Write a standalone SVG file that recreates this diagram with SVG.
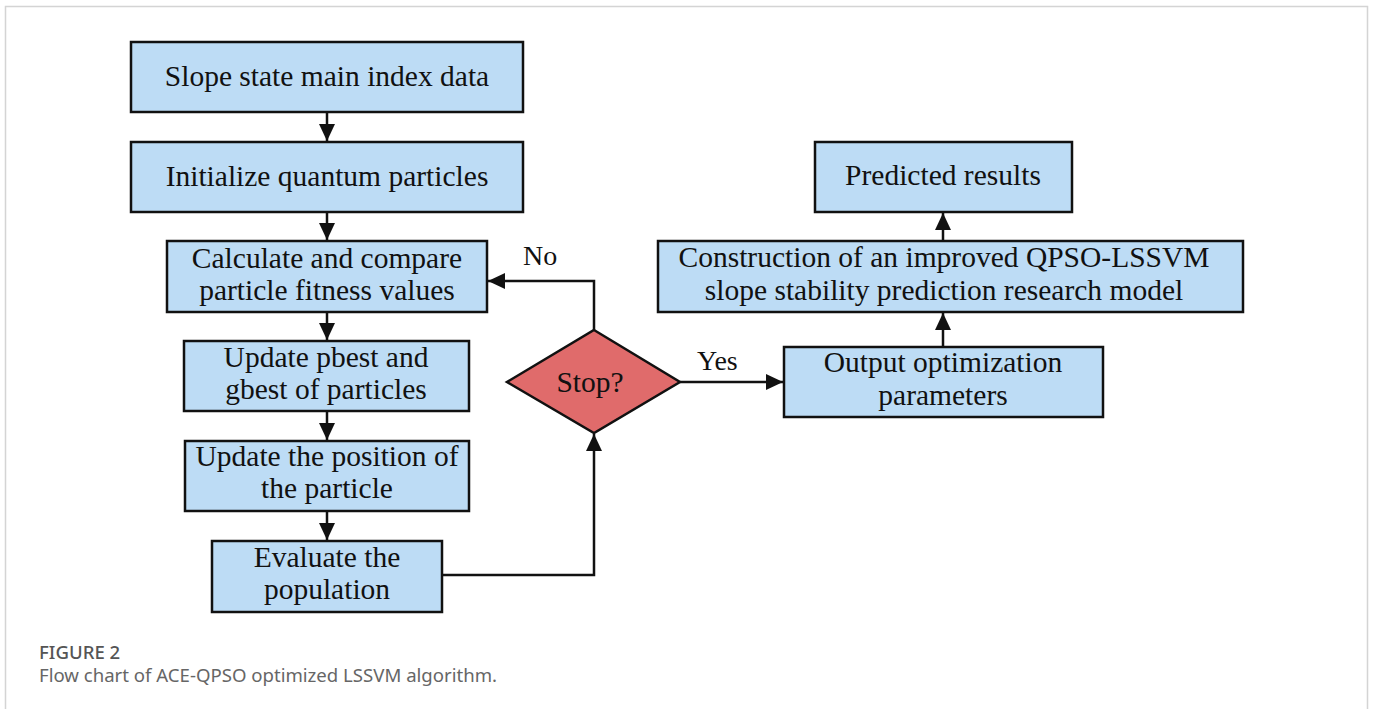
<svg xmlns="http://www.w3.org/2000/svg" width="1373" height="709" viewBox="0 0 1373 709">
<style>
.box{fill:#bddcf5;stroke:#111;stroke-width:2.5}
.dia{fill:#e06b6b;stroke:#111;stroke-width:2.5}
.t{font-family:"Liberation Serif","Times New Roman",serif;font-size:29.5px;fill:#111;text-anchor:middle}
.lbl{font-family:"Liberation Serif","Times New Roman",serif;font-size:28px;fill:#111}
.con{fill:none;stroke:#111;stroke-width:2.5}
.cap1{font-family:"Noto Sans","Open Sans",sans-serif;font-size:18.6px;fill:#555;font-weight:500}
.cap2{font-family:"Noto Sans","Open Sans",sans-serif;font-size:18.6px;fill:#666}
</style>
<defs>
<marker id="ah" markerUnits="userSpaceOnUse" markerWidth="17" markerHeight="16" viewBox="0 0 17 16" refX="17" refY="8" orient="auto">
<path d="M0,0 L17,8 L0,16 z" fill="#111"/>
</marker>
</defs>
<rect x="0" y="0" width="1373" height="709" fill="#fff"/>
<path d="M5.5,709 V6.5 H1367.5 V709" fill="none" stroke="#d4d4d4" stroke-width="1.5"/>

<g id="n1"><rect class="box" x="131" y="42" width="392" height="70"/><text class="t" x="327" y="86">Slope state main index data</text></g>
<g id="n2"><rect class="box" x="131" y="142" width="392" height="70"/><text class="t" x="327" y="186">Initialize quantum particles</text></g>
<g id="n3"><rect class="box" x="167" y="241" width="320" height="71"/><text class="t" x="327" y="268">Calculate and compare</text><text class="t" x="327" y="300">particle fitness values</text></g>
<g id="n4"><rect class="box" x="184" y="341" width="285" height="70"/><text class="t" x="326" y="367">Update pbest and</text><text class="t" x="326" y="399">gbest of particles</text></g>
<g id="n5"><rect class="box" x="185" y="441" width="284" height="70"/><text class="t" x="327" y="466">Update the position of</text><text class="t" x="327" y="498">the particle</text></g>
<g id="n6"><rect class="box" x="212" y="541" width="230" height="71"/><text class="t" x="327" y="567">Evaluate the</text><text class="t" x="327" y="599">population</text></g>
<g id="n7"><polygon class="dia" points="594,330 680,382 594,433 507,382"/><text class="t" x="590" y="392">Stop?</text></g>
<g id="n8"><rect class="box" x="784" y="347" width="319" height="70"/><text class="t" x="943" y="372">Output optimization</text><text class="t" x="943" y="405">parameters</text></g>
<g id="n9"><rect class="box" x="658" y="241" width="585" height="71"/><text class="t" x="944" y="267">Construction of an improved QPSO-LSSVM</text><text class="t" x="944" y="300">slope stability prediction research model</text></g>
<g id="n10"><rect class="box" x="815" y="142" width="257" height="70"/><text class="t" x="943" y="185">Predicted results</text></g>

<g id="connectors">
<path class="con" marker-end="url(#ah)" d="M327,112 V141"/>
<path class="con" marker-end="url(#ah)" d="M327,212 V240"/>
<path class="con" marker-end="url(#ah)" d="M327,312 V340"/>
<path class="con" marker-end="url(#ah)" d="M327,411 V440"/>
<path class="con" marker-end="url(#ah)" d="M327,511 V540"/>
<path class="con" marker-end="url(#ah)" d="M442,575 H594 V434"/>
<path class="con" marker-end="url(#ah)" d="M594,330 V281 H488"/>
<path class="con" marker-end="url(#ah)" d="M680,382 H783"/>
<path class="con" marker-end="url(#ah)" d="M943,347 V313"/>
<path class="con" marker-end="url(#ah)" d="M943,241 V213"/>
<text class="lbl" x="523" y="265">No</text>
<text class="lbl" x="697" y="370">Yes</text>
</g>

<text class="cap1" x="39" y="659">FIGURE 2</text>
<text class="cap2" x="39" y="682">Flow chart of ACE-QPSO optimized LSSVM algorithm.</text>
</svg>
